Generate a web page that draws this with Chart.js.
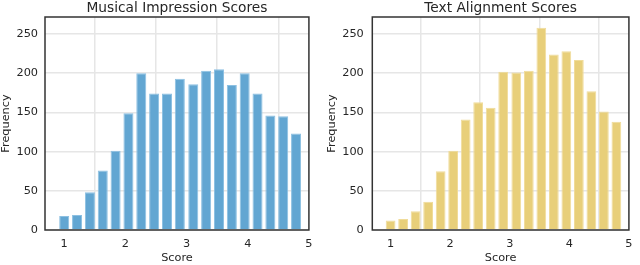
<!DOCTYPE html>
<html><head><meta charset="utf-8">
<script src="https://cdn.jsdelivr.net/npm/chart.js@4/dist/chart.umd.min.js"></script>
<style>
html,body{margin:0;padding:0;background:#fff;width:640px;height:265px;overflow:hidden}
.c{position:absolute;top:0;width:320px;height:265px}
</style></head>
<body>
<div class="c" style="left:0"><canvas id="a" width="320" height="265"></canvas></div>
<div class="c" style="left:320px"><canvas id="b" width="320" height="265"></canvas></div>
<script>
const binCenters = [1.00,1.21,1.42,1.63,1.84,2.05,2.26,2.47,2.68,2.89,3.11,3.32,3.53,3.74,3.95,4.16,4.37,4.58,4.79];
const musicalImpression = [18,19,48,76,101,149,200,174,174,193,186,203,205,185,200,174,146,145,123];
const textAlignment = [12,14,24,36,75,101,141,163,156,202,201,203,258,224,228,217,177,151,138];
const xTickValues = [1,2,3,4,5];
const yTickValues = [0,50,100,150,200,250];
const chartTitles = ['Musical Impression Scores','Text Alignment Scores'];
const xLabel = 'Score';
const yLabel = 'Frequency';

const FAM = '"DejaVu Sans", sans-serif';
const TXT = '#262626';
const GRID = '#e6e6e6';

const spines = {
  id: 'spines',
  afterDraw(chart) {
    const {ctx, chartArea: a} = chart;
    ctx.save();
    ctx.strokeStyle = '#333333';
    ctx.lineWidth = 1.5;
    ctx.strokeRect(a.left, a.top, a.right - a.left, a.bottom - a.top);
    ctx.restore();
  }
};

function make(id, title, values, fill, edge, L) {
  new Chart(document.getElementById(id), {
    type: 'bar',
    data: {
      datasets: [{
        data: binCenters.map((x, i) => ({x: x, y: values[i]})),
        backgroundColor: fill,
        borderColor: edge,
        borderWidth: 1,
        borderSkipped: 'start',
        barPercentage: 0.78,
        categoryPercentage: 1
      }]
    },
    options: {
      responsive: false,
      animation: false,
      devicePixelRatio: 1,
      layout: {padding: {left: 0, right: L.padRight, top: 0, bottom: 0}},
      plugins: {
        legend: {display: false},
        tooltip: {enabled: false},
        title: {
          display: true, text: title, color: TXT, fullSize: false,
          font: {family: FAM, size: 13.75, weight: 'normal', lineHeight: 1},
          padding: {top: 1.5, bottom: 1.75}
        }
      },
      scales: {
        x: {
          type: 'linear', min: L.xmin, max: 5, offset: false,
          afterBuildTicks: s => { s.ticks = xTickValues.map(v => ({value: v})); },
          afterFit: s => { s.height = 35; },
          grid: {color: GRID, lineWidth: 1.5, drawTicks: false},
          border: {display: false},
          ticks: {padding: 7.5, color: TXT, font: {family: FAM, size: 11.3, lineHeight: 1.2}},
          title: {display: true, text: xLabel, color: TXT,
                  font: {family: FAM, size: 11.3, lineHeight: 1},
                  padding: {top: 0, bottom: 1.35}}
        },
        y: {
          min: 0, max: 271.7,
          afterBuildTicks: s => { s.ticks = yTickValues.map(v => ({value: v})); },
          afterFit: s => { s.width = L.yWidth; },
          grid: {color: GRID, lineWidth: 1.5, drawTicks: false},
          border: {display: false},
          ticks: {padding: L.yTickPad, color: TXT, font: {family: FAM, size: 11.3, lineHeight: 1.2}},
          title: {display: true, text: yLabel, color: TXT,
                  font: {family: FAM, size: 11.3, lineHeight: 1},
                  padding: {top: L.yTitlePad, bottom: 0}}
        }
      }
    },
    plugins: [spines]
  });
}

make('a', chartTitles[0], musicalImpression, '#62a6d2', '#8cc0e2',
     {padRight: 9.3, xmin: 0.686, yWidth: 45, yTickPad: 7, yTitlePad: 0});
make('b', chartTitles[1], textAlignment, '#e8cf7a', '#f0dc9a',
     {padRight: 4, xmin: 0.693, yWidth: 52.3, yTickPad: 8.5, yTitlePad: 6});
</script>
</body></html>
